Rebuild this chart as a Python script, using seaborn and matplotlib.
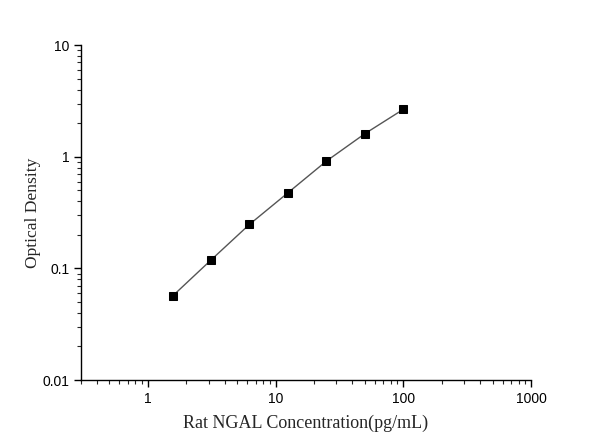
import matplotlib
matplotlib.use('Agg')
import matplotlib.pyplot as plt
import matplotlib.ticker as mticker
import seaborn as sns
import pandas as pd

# standard curve values
concentration = [1.5625, 3.125, 6.25, 12.5, 25, 50, 100]
optical_density = [0.0566, 0.119, 0.248, 0.476, 0.915, 1.61, 2.66]

x_ticks = [1, 10, 100, 1000]
x_tick_labels = ['1', '10', '100', '1000']
y_ticks = [0.01, 0.1, 1, 10]
y_tick_labels = ['0.01', '0.1', '1', '10']

df = pd.DataFrame({'conc': concentration, 'od': optical_density})

sns.set_style('ticks')
plt.rcParams['font.family'] = ['Liberation Sans', 'DejaVu Sans']

fig = plt.figure(figsize=(6, 4.43), dpi=100)
ax = fig.add_axes([0.135, 0.142, 0.75, 0.756])

sns.lineplot(data=df, x='conc', y='od', ax=ax, color='#555555', linewidth=1.0,
             marker='s', markersize=6, markerfacecolor='black', markeredgecolor='black')

ax.set_xscale('log')
ax.set_yscale('log')
ax.set_xlim(0.3, 1000)
ax.set_ylim(0.01, 10)

ax.set_xticks(x_ticks)
ax.set_xticklabels(x_tick_labels)
ax.set_yticks(y_ticks)
ax.set_yticklabels(y_tick_labels)
ax.xaxis.set_minor_locator(mticker.LogLocator(base=10, subs=range(2, 10)))
ax.yaxis.set_minor_locator(mticker.LogLocator(base=10, subs=range(2, 10)))
ax.xaxis.set_minor_formatter(mticker.NullFormatter())
ax.yaxis.set_minor_formatter(mticker.NullFormatter())

ax.tick_params(which='major', direction='out', length=5, width=1, labelsize=10, colors='black')
ax.tick_params(which='minor', direction='out', length=3, width=0.8)
for s in ['left', 'bottom']:
    ax.spines[s].set_color('black')
    ax.spines[s].set_linewidth(1)
sns.despine(ax=ax)

ax.set_xlabel('Rat NGAL Concentration(pg/mL)', family='Liberation Serif', fontsize=13, labelpad=6)
ax.set_ylabel('Optical Density', family='Liberation Serif', fontsize=12.6, labelpad=1)

fig.savefig('out.png', dpi=100)
